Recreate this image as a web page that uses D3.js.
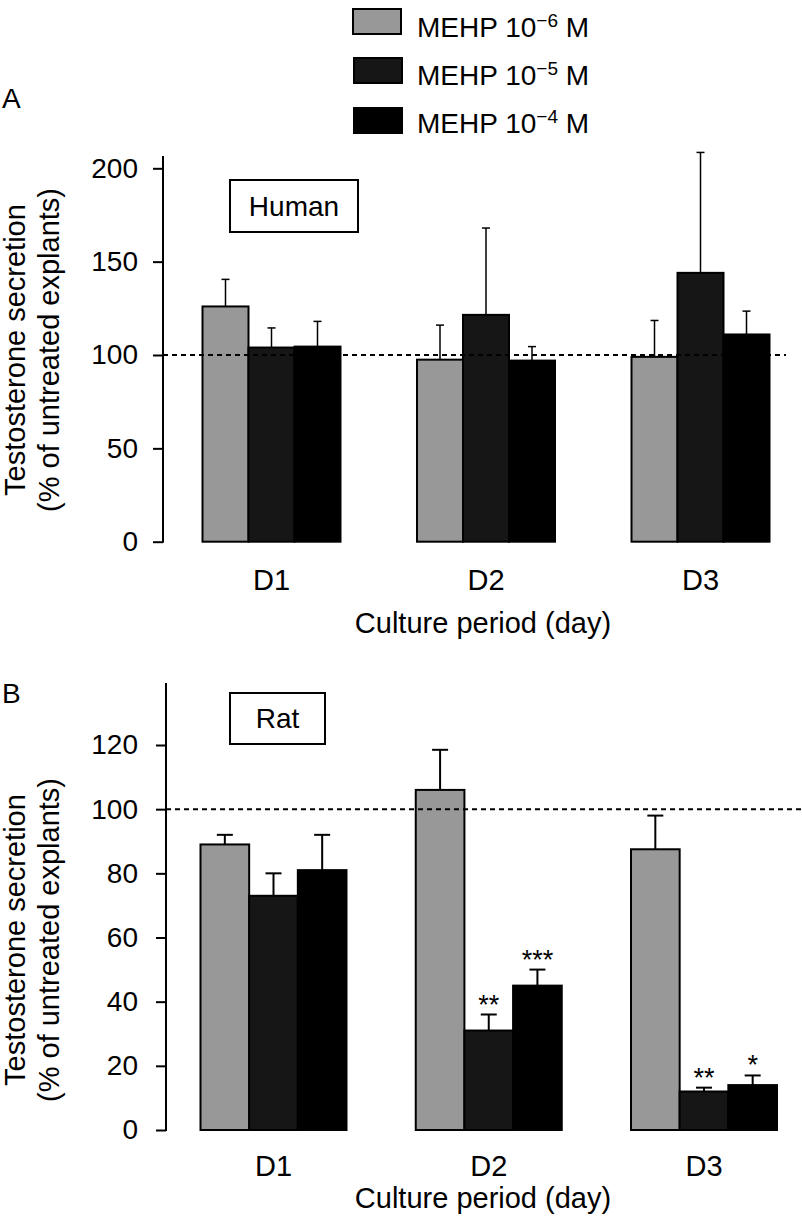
<!DOCTYPE html>
<html>
<head>
<meta charset="utf-8">
<script src="https://cdn.jsdelivr.net/npm/d3@7/dist/d3.min.js"></script>
<style>
  html, body { margin: 0; padding: 0; background: #fff; }
  svg { display: block; font-family: "Liberation Sans", Arial, Helvetica, sans-serif; }
</style>
</head>
<body>
<svg id="chart" width="802" height="1218"></svg>
<script>
// ---- data ----
const days = ["D1", "D2", "D3"];
const seriesNames = ["MEHP 10-6 M", "MEHP 10-5 M", "MEHP 10-4 M"];
const seriesExp = ["−6", "−5", "−4"];
const seriesColors = ["#989898", "#161616", "#000000"];

// Panel A: Human
const humanMean = [
  [126, 97.5, 99],    // 10^-6 M  (D1, D2, D3)
  [104, 121.5, 144],  // 10^-5 M
  [104.5, 97, 111]    // 10^-4 M
];
const humanErrTop = [
  [140.5, 116, 118.5],
  [114.5, 168, 208.5],
  [118, 104.5, 123.5]
];
const humanTicks = [0, 50, 100, 150, 200];

// Panel B: Rat
const ratMean = [
  [89, 106, 87.5],
  [73, 31, 12],
  [81, 45, 14]
];
const ratErrTop = [
  [92, 118.5, 98],
  [80, 36, 13.2],
  [92, 50, 17]
];
const ratStars = [
  ["", "", ""],
  ["", "**", "**"],
  ["", "***", "*"]
];
const ratTicks = [0, 20, 40, 60, 80, 100, 120];

const svg = d3.select("#chart");

// ---- legend ----
const legend = svg.append("g");
const legendRows = [{y: 9, x: 353}, {y: 58, x: 354}, {y: 108, x: 354}];
const legendBase = [37, 85, 133];
seriesNames.forEach((s, i) => {
  legend.append("rect")
    .attr("x", legendRows[i].x).attr("y", legendRows[i].y)
    .attr("width", 48).attr("height", 25)
    .attr("fill", seriesColors[i]).attr("stroke", "#000").attr("stroke-width", 2);
  const t = legend.append("text")
    .attr("x", 417).attr("y", legendBase[i])
    .attr("font-size", 28).attr("fill", "#000");
  t.append("tspan").text("MEHP 10");
  t.append("tspan").attr("font-size", 19).attr("dy", -10).text(seriesExp[i]);
  t.append("tspan").attr("dy", 10).text(" M");
});

function panel(opts) {
  const g = svg.append("g");
  const y = d3.scaleLinear().domain([0, opts.tickMax]).range([opts.y0, opts.yTickMax]);
  const x0 = d3.scalePoint().domain(days).range(opts.centers);
  const x1 = d3.scaleBand().domain(d3.range(3)).range([-opts.groupHalf, opts.groupHalf]);

  // axis
  const ax = g.append("g")
    .attr("transform", `translate(${opts.axisX},0)`)
    .call(d3.axisLeft(y).tickValues(opts.ticks).tickSize(10).tickSizeOuter(0).tickPadding(opts.tickPad));
  ax.select(".domain").remove();
  ax.selectAll(".tick line").attr("stroke", "#000").attr("stroke-width", 2);
  ax.selectAll(".tick text").attr("font-size", 28).attr("fill", "#000")
    .attr("font-family", "Liberation Sans, Arial, sans-serif");
  g.append("line")
    .attr("x1", opts.axisX).attr("x2", opts.axisX)
    .attr("y1", y(0) + 1).attr("y2", opts.axisTop)
    .attr("stroke", "#000").attr("stroke-width", 2);

  // bars
  opts.mean.forEach((vals, si) => {
    vals.forEach((v, di) => {
      const bx = x0(days[di]) + x1(si);
      g.append("rect")
        .attr("x", bx).attr("y", y(v))
        .attr("width", x1.bandwidth()).attr("height", y(0) - y(v))
        .attr("fill", seriesColors[si]).attr("stroke", "#000").attr("stroke-width", 2);
    });
  });

  // dashed reference line at 100
  g.append("line")
    .attr("x1", opts.axisX).attr("x2", opts.dashEnd)
    .attr("y1", y(100)).attr("y2", y(100))
    .attr("stroke", "#000").attr("stroke-width", 2).attr("stroke-dasharray", "5,4");

  // error bars
  opts.err.forEach((vals, si) => {
    vals.forEach((e, di) => {
      const cx = x0(days[di]) + x1(si) + x1.bandwidth() / 2;
      const m = opts.mean[si][di];
      g.append("line").attr("x1", cx).attr("x2", cx)
        .attr("y1", y(m)).attr("y2", y(e))
        .attr("stroke", "#000").attr("stroke-width", opts.errW);
      g.append("line").attr("x1", cx - opts.cap / 2).attr("x2", cx + opts.cap / 2)
        .attr("y1", y(e)).attr("y2", y(e))
        .attr("stroke", "#000").attr("stroke-width", opts.errW);
      if (opts.stars && opts.stars[si][di]) {
        g.append("text").attr("x", cx).attr("y", y(e) - 1)
          .attr("text-anchor", "middle").attr("font-size", 27).attr("fill", "#000")
          .text(opts.stars[si][di]);
      }
    });
  });

  // day labels
  days.forEach(d => {
    g.append("text").attr("x", x0(d)).attr("y", opts.dayBase)
      .attr("text-anchor", "middle").attr("font-size", 29).attr("fill", "#000").text(d);
  });
  g.append("text").attr("x", opts.xTitleX).attr("y", opts.xTitleBase)
    .attr("text-anchor", "middle").attr("font-size", 29).attr("fill", "#000")
    .text("Culture period (day)");

  // y title
  const yt = g.append("text")
    .attr("transform", `translate(25,${opts.yTitleCenter}) rotate(-90)`)
    .attr("text-anchor", "middle").attr("font-size", 29).attr("fill", "#000");
  yt.append("tspan").attr("x", 0).attr("y", 0).text("Testosterone secretion");
  yt.append("tspan").attr("x", 0).attr("y", 34).text("(% of untreated explants)");

  // species box
  g.append("rect").attr("x", opts.box[0]).attr("y", opts.box[1])
    .attr("width", opts.box[2]).attr("height", opts.box[3])
    .attr("fill", "#fff").attr("stroke", "#000").attr("stroke-width", 2);
  g.append("text").attr("x", opts.box[0] + opts.box[2] / 2).attr("y", opts.boxBase)
    .attr("text-anchor", "middle").attr("font-size", 28).attr("fill", "#000").text(opts.species);

  // panel letter
  g.append("text").attr("x", 2).attr("y", opts.letterBase)
    .attr("font-size", 28).attr("fill", "#000").text(opts.letter);
}

panel({
  letter: "A", letterBase: 108, species: "Human",
  mean: humanMean, err: humanErrTop, stars: null,
  ticks: humanTicks, tickMax: 200, y0: 541.7, yTickMax: 168.3, axisTop: 156,
  axisX: 163, tickPad: 15,
  centers: [271.5, 700.5], groupHalf: 69,
  dashEnd: 786, cap: 8, errW: 1.5,
  dayBase: 590, xTitleX: 483, xTitleBase: 633,
  yTitleCenter: 350,
  box: [230, 180, 128, 52], boxBase: 216
});

panel({
  letter: "B", letterBase: 703, species: "Rat",
  mean: ratMean, err: ratErrTop, stars: ratStars,
  ticks: ratTicks, tickMax: 120, y0: 1130, yTickMax: 745, axisTop: 683,
  axisX: 166, tickPad: 18,
  centers: [273.5, 704], groupHalf: 73,
  dashEnd: 802, cap: 16, errW: 2,
  dayBase: 1176, xTitleX: 483, xTitleBase: 1208,
  yTitleCenter: 940,
  box: [230, 693, 95, 51], boxBase: 728
});
</script>
</body>
</html>
